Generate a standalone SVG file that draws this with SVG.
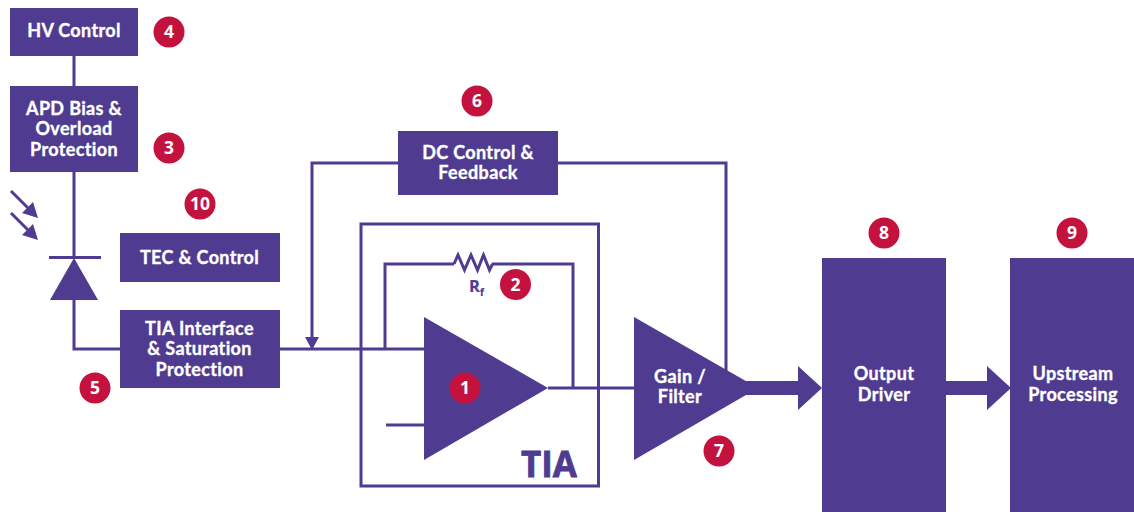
<svg xmlns="http://www.w3.org/2000/svg" width="1134" height="512" viewBox="0 0 1134 512">
<defs><style>
.b{fill:#4f3b8f}
.w{stroke:#4f3b8f;stroke-width:3;fill:none}
.t{font-family:Lato,"Open Sans","Liberation Sans",sans-serif;font-weight:700;font-size:18px;letter-spacing:.35px;fill:#fff;text-anchor:middle;stroke:#fff;stroke-width:.35}
.n{fill:#c4123f}
.d{font-family:"Open Sans","Liberation Sans",sans-serif;font-weight:700;font-size:17.500px;fill:#fff;text-anchor:middle}
.p{font-family:"Open Sans","Liberation Sans",sans-serif;font-weight:700;fill:#4f3b8f;stroke:#4f3b8f}
</style></defs>
<rect width="1134" height="512" fill="#fff"/>
<g id="connectors">
<path class="w" d="M74 56V86M74 171V258M74 300V349H120M280 349H424M385 349V264H454M492 264H573V388M548 388H634"/>
<path class="w" d="M454 264l4-9 6.500 15 6.500-15 6.500 15 6-15 6 15 3-6"/>
<path class="w" d="M398 163H312V340"/>
<path fill="#4f3b8f" d="M305 337H319L312 350Z"/>
<path class="w" d="M557 163H726V372"/>
<path class="w" d="M386 425H424"/>
<path class="b" d="M735 381H798V366L822 388 798 410V395H735ZM946 381H987V366L1011 388 987 410V395H946Z"/>
<path class="w" d="M11 191L30 210M11 213L30 232"/>
<path class="b" d="M38 218L22 213 33 202ZM38 240L22 235 33 224Z"/>
<path class="w" d="M49 257.500H101"/>
<path class="w" d="M361 224H598.500V486H361Z"/>
</g>
<g id="photodiode"><path class="b" d="M74 258L98 300H50Z"/></g>
<g id="hv"><rect class="b" x="10" y="8" width="128" height="48"/><text class="t" x="74" y="37">HV Control</text></g>
<g id="apd"><rect class="b" x="10" y="86" width="128" height="86"/><text class="t"><tspan x="74" y="115">APD Bias &amp;</tspan><tspan x="74" y="135">Overload</tspan><tspan x="74" y="156">Protection</tspan></text></g>
<g id="tec"><rect class="b" x="120" y="233" width="160" height="49"/><text class="t" x="199.500" y="263.500">TEC &amp; Control</text></g>
<g id="interface"><rect class="b" x="120" y="310" width="160" height="78"/><text class="t"><tspan x="199.500" y="335">TIA Interface</tspan><tspan x="199.500" y="355">&amp; Saturation</tspan><tspan x="199.500" y="376">Protection</tspan></text></g>
<g id="dc"><rect class="b" x="398" y="131" width="160" height="64"/><text class="t"><tspan x="478" y="159">DC Control &amp;</tspan><tspan x="478" y="179">Feedback</tspan></text></g>
<g id="tia"><path class="b" d="M424 317L548 388 424 460Z"/>
<text class="p" x="549" y="477" font-size="35" stroke-width=".8" text-anchor="middle">TIA</text>
<text class="p" x="469" y="292" font-size="16.500" stroke-width=".2">R<tspan font-size="10" dy="4">f</tspan></text></g>
<g id="gain"><path class="b" d="M634 317L758 388 634 460Z"/><text class="t"><tspan x="680" y="383">Gain /</tspan><tspan x="680" y="403">Filter</tspan></text></g>
<g id="output"><rect class="b" x="822" y="258" width="124" height="254"/><text class="t"><tspan x="884" y="380">Output</tspan><tspan x="884" y="401">Driver</tspan></text></g>
<g id="upstream"><rect class="b" x="1010" y="258" width="124" height="254"/><text class="t"><tspan x="1073" y="380">Upstream</tspan><tspan x="1073" y="401">Processing</tspan></text></g>
<g id="badges">
<circle class="n" cx="465" cy="388" r="15.500"/><text class="d" x="465" y="394">1</text>
<circle class="n" cx="515.500" cy="284.500" r="15.500"/><text class="d" x="515.500" y="291">2</text>
<circle class="n" cx="169" cy="148" r="15.500"/><text class="d" x="169" y="154">3</text>
<circle class="n" cx="169" cy="32" r="15.500"/><text class="d" x="169" y="38">4</text>
<circle class="n" cx="95" cy="388" r="15.500"/><text class="d" x="95" y="394">5</text>
<circle class="n" cx="477" cy="101" r="15.500"/><text class="d" x="477" y="107">6</text>
<circle class="n" cx="719" cy="451" r="15.500"/><text class="d" x="719" y="457">7</text>
<circle class="n" cx="884" cy="233" r="15.500"/><text class="d" x="884" y="239">8</text>
<circle class="n" cx="1072" cy="233" r="15.500"/><text class="d" x="1072" y="239">9</text>
<circle class="n" cx="200" cy="204" r="15.500"/><text class="d" x="200" y="210">10</text>
</g>
</svg>
